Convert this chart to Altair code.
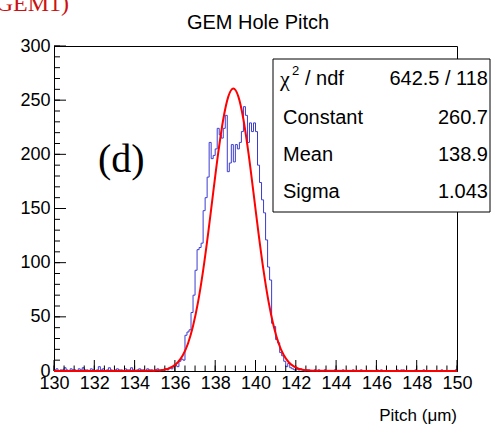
import altair as alt
import pandas as pd

# ---------------- data ----------------
# histogram bins: 0.1 um wide, 130.0 .. 150.0 (200 bins)
left_tail = [1, 2, 0, 1, 1, 3, 1, 0, 2, 1,
             1, 0, 2, 1, 3, 1, 1, 0, 2, 1,
             0, 1, 4, 1, 2, 0, 1, 3, 1, 0,
             1, 2, 1, 1, 0, 2, 1, 1, 3, 1,
             0, 1, 2, 1, 1, 0, 2, 1, 1, 0,
             1, 2, 0, 1, 1]                      # 130.0 .. 135.4
core = [2, 1, 3, 2, 4,                            # 135.5 .. 135.9
        5, 4, 9, 11, 10, 33, 36, 38, 54, 70,      # 136.0 .. 136.9
        93, 112, 114, 118, 148, 160, 179, 211, 196, 199,   # 137.x
        205, 224, 218, 215, 224, 236, 184, 192, 209, 193,  # 138.x
        209, 205, 211, 221, 244, 236, 211, 229, 221, 229,  # 139.x
        221, 190, 174, 158, 146, 121, 96, 84, 44, 41,      # 140.x
        29, 26, 17, 14, 9, 4, 7, 3, 2, 1,                  # 141.x
        2]                                                 # 142.0
right_tail = [1, 2, 1, 0, 1, 1, 0, 0, 1, 0,
              1, 0, 0, 1, 0, 0, 0, 0, 1, 0,
              0, 0, 1, 0, 0, 0, 0, 1, 0, 0,
              0, 1, 0, 0, 0, 0, 0, 0, 0, 1,
              0, 1, 0, 0, 0, 0, 0, 0, 0, 1,
              0, 1, 1, 0, 0, 0, 0, 0, 1, 0,
              0, 0, 1, 0, 0, 0, 0, 0, 0, 0,
              0, 1, 0, 0, 0, 0, 0, 0, 1]          # 142.1 .. 149.9
bin_start = 130.0
bin_width = 0.1

# red fit curve
fit_x = [130.0, 134.9, 135.4, 135.9, 136.15, 136.4, 136.65, 136.9, 137.15, 137.4,
         137.65, 137.9, 138.15, 138.4, 138.65, 138.9, 139.15, 139.4, 139.65, 139.9,
         140.15, 140.4, 140.65, 140.9, 141.15, 141.4, 141.65, 141.9, 142.4, 142.9, 150.0]
fit_y = [0.0, 0.2, 0.9, 4.2, 8.1, 14.7, 25.4, 41.5, 63.8, 92.7,
         127.1, 164.6, 201.3, 232.4, 253.3, 260.7, 253.3, 232.4, 201.3, 164.6,
         127.1, 92.7, 63.8, 41.5, 25.4, 14.7, 8.1, 4.2, 0.9, 0.2, 0.0]

x_tick_labels = [130, 132, 134, 136, 138, 140, 142, 144, 146, 148, 150]
x_minor_ticks = [130 + 0.5 * i for i in range(41)]
y_tick_labels = [0, 50, 100, 150, 200, 250, 300]
y_minor_ticks = [10 * i for i in range(31)]

title_text = "GEM Hole Pitch"
x_title = "Pitch (\u03bcm)"
panel_tag = "(d)"
corner_text = "(GEM1)"
stats_names = ["Constant", "Mean", "Sigma"]
stats_values = ["642.5 / 118", "260.7", "138.9", "1.043"]

# ---------------- build ----------------
counts = left_tail + core + right_tail
edges = [round(bin_start + i * bin_width, 1) for i in range(len(counts))]
hist_df = pd.DataFrame({"x": edges + [150.0], "y": counts + [counts[-1]]})
fit_df = pd.DataFrame({"x": fit_x, "y": fit_y})

W, H = 403, 325
FONT = "Liberation Sans"
xs = alt.Scale(domain=[130, 150], nice=False, zero=False)
ys = alt.Scale(domain=[0, 300], nice=False, zero=True)
xaxis = alt.Axis(values=x_tick_labels, ticks=False, grid=False, title=None,
                 labelFont=FONT, labelFontSize=18, labelColor="black", labelPadding=3,
                 labelFlush=False, domainColor="black", domainWidth=1)
yaxis = alt.Axis(values=y_tick_labels, ticks=False, grid=False, title=None,
                 labelFont=FONT, labelFontSize=18, labelColor="black", labelPadding=4,
                 domainColor="black", domainWidth=1)
X = lambda: alt.X("x:Q", scale=xs, axis=xaxis)
Y = lambda: alt.Y("y:Q", scale=ys, axis=yaxis)

hist = alt.Chart(hist_df).mark_line(
    interpolate="step-after", color="#3c3cd0", strokeWidth=1
).encode(x=X(), y=Y())

fit = alt.Chart(fit_df).mark_line(
    interpolate="monotone", color="#ff0000", strokeWidth=2
).encode(x=X(), y=Y())

xmaj = alt.Chart(pd.DataFrame({"x": x_tick_labels})).mark_rule(color="black", strokeWidth=1).encode(
    x=X(), y=alt.value(H), y2=alt.value(H - 11))
xmin = alt.Chart(pd.DataFrame({"x": x_minor_ticks})).mark_rule(color="black", strokeWidth=1).encode(
    x=X(), y=alt.value(H), y2=alt.value(H - 5.5))
ymaj = alt.Chart(pd.DataFrame({"y": y_tick_labels})).mark_rule(color="black", strokeWidth=1).encode(
    y=Y(), x=alt.value(0), x2=alt.value(12))
ymin = alt.Chart(pd.DataFrame({"y": y_minor_ticks})).mark_rule(color="black", strokeWidth=1).encode(
    y=Y(), x=alt.value(0), x2=alt.value(6))

one = pd.DataFrame({"a": [0]})


def txt(t, x, y, size, font=FONT, align="left", baseline="middle", color="black"):
    return alt.Chart(one).mark_text(
        text=t, align=align, baseline=baseline, font=font, fontSize=size, color=color
    ).encode(x=alt.value(x), y=alt.value(y))


box = alt.Chart(one).mark_rect(fill="white", stroke="black", strokeWidth=1).encode(
    x=alt.value(219), x2=alt.value(436), y=alt.value(13), y2=alt.value(166))

layers = [hist, xmin, xmaj, ymin, ymaj, fit, box]
# stats text
layers.append(txt("\u03c7", 226, 33, 22, font="Liberation Serif"))
layers.append(txt("2", 238, 25, 13))
layers.append(txt("/ ndf", 251, 33, 20))
row_y = [72, 109, 146]
for name, yy in zip(stats_names, row_y):
    layers.append(txt(name, 229, yy, 20))
for val, yy in zip(stats_values, [33] + row_y):
    layers.append(txt(val, 434, yy, 20, align="right"))

layers.append(txt(title_text, 204, -23, 20, align="center"))
layers.append(txt(x_title, 403, 370, 17, align="right"))
layers.append(txt(panel_tag, 44, 114, 40, font="Liberation Serif"))
layers.append(txt(corner_text, 15, -35, 24, font="Liberation Serif",
                  align="right", baseline="alphabetic", color="#cc1111"))

chart = alt.layer(*layers).properties(
    width=W, height=H,
    padding={"left": 54, "top": 46, "right": 34, "bottom": 62},
    autosize=alt.AutoSizeParams(type="none"),
    background="white",
).configure_view(stroke="black", strokeWidth=1)

chart.save("out.html", embed_options={"renderer": "svg", "actions": False})
